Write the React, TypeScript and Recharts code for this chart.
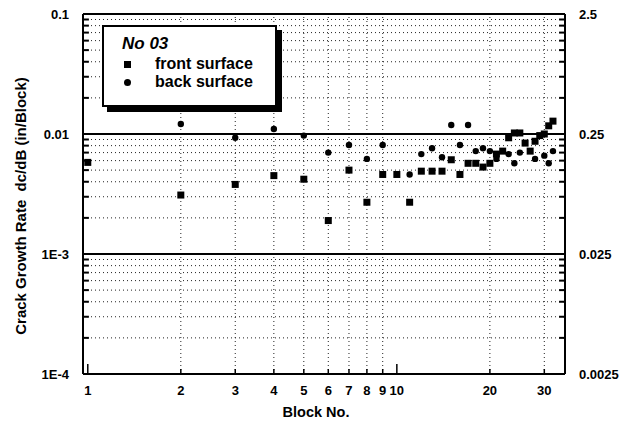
import React from "react";
import {
  ScatterChart,
  Scatter,
  XAxis,
  YAxis,
  ReferenceLine,
} from "recharts";

// block numbers and crack growth rates (in/block)
const frontBlocks = [1, 2, 3, 4, 5, 6, 7, 8, 9, 10, 11, 12, 13, 14, 15, 16, 17, 18, 19, 20, 21, 22, 23, 24, 25, 26, 27, 28, 29, 30, 31, 32];
const frontRate = [0.0058, 0.0031, 0.0038, 0.0045, 0.0042, 0.0019, 0.005, 0.0027, 0.0046, 0.0046, 0.0027, 0.0049, 0.0049, 0.0049, 0.0061, 0.0046, 0.0057, 0.0057, 0.0053, 0.0057, 0.0068, 0.0072, 0.0093, 0.0102, 0.0102, 0.0084, 0.0072, 0.0087, 0.0097, 0.01, 0.0117, 0.0128];

const backBlocks = [2, 3, 4, 5, 6, 7, 8, 9, 11, 12, 13, 14, 15, 16, 17, 18, 19, 20, 21, 23, 24, 25, 28, 30, 31, 32];
const backRate = [0.0121, 0.0093, 0.011, 0.0097, 0.007, 0.0081, 0.0062, 0.0081, 0.0046, 0.0068, 0.0076, 0.0064, 0.0119, 0.0081, 0.0119, 0.0072, 0.0076, 0.0072, 0.0062, 0.0068, 0.0057, 0.007, 0.0062, 0.0066, 0.0057, 0.0072];

const xTicks = [1, 2, 3, 4, 5, 6, 7, 8, 9, 10, 20, 30];
const xDotted = [2, 3, 4, 5, 6, 7, 8, 9, 20, 30];
const yTicks = [0.0001, 0.001, 0.01, 0.1];
const yLabels: Record<string, string> = { "0.0001": "1E-4", "0.001": "1E-3", "0.01": "0.01", "0.1": "0.1" };
const rightTicks = [0.0025, 0.025, 0.25, 2.5];
const yMajor = [0.001, 0.01];
const minorMult = [2, 3, 4, 5, 6, 7, 8, 9];
const decades = [0.0001, 0.001, 0.01];

const X_MIN = 0.965;
const X_MAX = 35;
const Y_MIN = 0.0001;
const Y_MAX = 0.1;

const yMinor = decades.flatMap((d) => minorMult.map((m) => +(d * m).toPrecision(3)));

const front = frontBlocks.map((b, i) => ({ block: b, rate: frontRate[i] }));
const back = backBlocks.map((b, i) => ({ block: b, rate: backRate[i] }));

const font = "'Liberation Sans', Arial, Helvetica, sans-serif";
const tickStyle = { fontSize: 13, fontWeight: 700, fill: "#000", fontFamily: font };

const Square = (p: any) => <rect x={p.cx - 3.5} y={p.cy - 3.5} width={7} height={7} fill="#000" />;
const Dot = (p: any) => <circle cx={p.cx} cy={p.cy} r={3.2} fill="#000" />;

export default function App() {
  const tickX = 1.045; // inward tick length in log-x units
  const tickY = 1.1;
  return (
    <div style={{ position: "absolute", left: 0, top: 0, width: 624, height: 427, background: "#fff", fontFamily: font }}>
      <ScatterChart width={624} height={427} margin={{ top: 14, right: 0, bottom: 0, left: 0 }}>
        <XAxis
          dataKey="block"
          type="number"
          scale="log"
          domain={[X_MIN, X_MAX]}
          allowDataOverflow
          ticks={xTicks}
          interval={0}
          height={53}
          tickLine={false}
          tickMargin={6}
          axisLine={{ stroke: "#000", strokeWidth: 2 }}
          tick={tickStyle}
          label={{ value: "Block No.", position: "insideBottom", offset: 10, dx: -8, style: { ...tickStyle, fontSize: 14.5 } }}
        />
        <YAxis
          yAxisId="left"
          dataKey="rate"
          type="number"
          scale="log"
          domain={[Y_MIN, Y_MAX]}
          allowDataOverflow
          ticks={yTicks}
          interval={0}
          width={83}
          tickLine={false}
          tickMargin={8}
          axisLine={{ stroke: "#000", strokeWidth: 2 }}
          tick={tickStyle}
          tickFormatter={(v: number) => yLabels[String(v)] ?? String(v)}
        />
        <YAxis
          yAxisId="right"
          orientation="right"
          type="number"
          scale="log"
          domain={[0.0025, 2.5]}
          allowDataOverflow
          ticks={rightTicks}
          interval={0}
          width={59}
          tickLine={false}
          tickMargin={8}
          axisLine={{ stroke: "#000", strokeWidth: 2 }}
          tick={{ ...tickStyle, textAnchor: "start" }}
          tickFormatter={(v: number) => String(v)}
        />

        {yMinor.map((v) => (
          <ReferenceLine key={"hm" + v} yAxisId="left" y={v} stroke="#222" strokeDasharray="1 3" ifOverflow="hidden" />
        ))}
        {xDotted.map((v) => (
          <ReferenceLine key={"vm" + v} yAxisId="left" x={v} stroke="#222" strokeDasharray="1 3" ifOverflow="hidden" />
        ))}
        {yMajor.map((v) => (
          <ReferenceLine key={"hM" + v} yAxisId="left" y={v} stroke="#000" strokeWidth={2} />
        ))}
        <ReferenceLine yAxisId="left" y={Y_MAX} stroke="#000" strokeWidth={2} />

        {yMinor.map((v) => (
          <ReferenceLine
            key={"tl" + v}
            yAxisId="left"
            segment={[{ x: X_MIN, y: v }, { x: X_MIN * tickX, y: v }]}
            stroke="#000"
            strokeWidth={2}
          />
        ))}
        {yMinor.map((v) => (
          <ReferenceLine
            key={"tr" + v}
            yAxisId="left"
            segment={[{ x: X_MAX / tickX, y: v }, { x: X_MAX, y: v }]}
            stroke="#000"
            strokeWidth={2}
          />
        ))}
        {xTicks.map((v) => (
          <ReferenceLine
            key={"tb" + v}
            yAxisId="left"
            segment={[{ x: v, y: Y_MIN }, { x: v, y: Y_MIN * (v === 1 || v === 10 ? tickY * 1.1 : tickY) }]}
            stroke="#000"
            strokeWidth={1.5}
          />
        ))}

        <Scatter yAxisId="left" data={front} shape={Square} isAnimationActive={false} />
        <Scatter yAxisId="left" data={back} shape={Dot} isAnimationActive={false} />
      </ScatterChart>

      <svg width={40} height={427} style={{ position: "absolute", left: 0, top: 0 }}>
        <text
          x={22}
          y={206}
          transform="rotate(-90 22 206)"
          textAnchor="middle"
          dominantBaseline="middle"
          style={{ fontFamily: font, fontSize: 15, fontWeight: 700, fill: "#000" }}
        >
          {"Crack Growth Rate\u00a0\u00a0dc/dB (in/Block)"}
        </text>
      </svg>

      <div
        style={{
          position: "absolute",
          left: 102,
          top: 25,
          width: 171,
          height: 78,
          background: "#fff",
          border: "2px solid #000",
          boxShadow: "5px 5px 0 #000",
          fontFamily: font,
          color: "#000",
        }}
      >
        <div style={{ position: "absolute", left: 18, top: 7, fontSize: 17, fontStyle: "italic", fontWeight: 700 }}>No 03</div>
        <div style={{ position: "absolute", left: 20, top: 34, width: 7, height: 7, background: "#000" }} />
        <div style={{ position: "absolute", left: 51, top: 28, fontSize: 16, fontWeight: 700 }}>front surface</div>
        <div style={{ position: "absolute", left: 20, top: 52, width: 7, height: 7, borderRadius: "50%", background: "#000" }} />
        <div style={{ position: "absolute", left: 51, top: 46, fontSize: 16, fontWeight: 700 }}>back surface</div>
      </div>
    </div>
  );
}
